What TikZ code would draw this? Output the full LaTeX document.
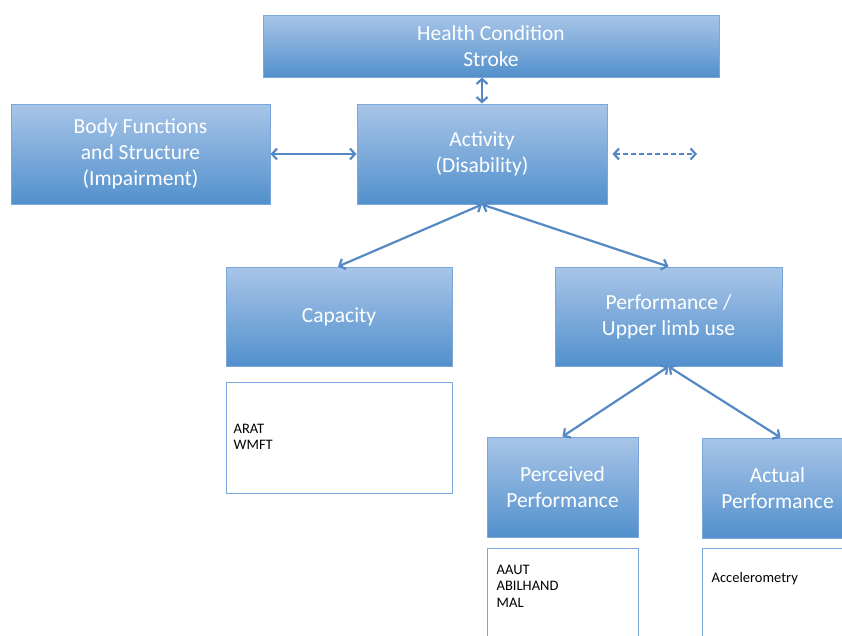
\documentclass[tikz,border=0pt]{standalone}
\usepackage{fontspec}
\setmainfont{Carlito}
\usetikzlibrary{arrows.meta,positioning}
\definecolor{boxtop}{HTML}{A8C5E8}
\definecolor{boxbot}{HTML}{5290CC}
\definecolor{boxline}{HTML}{7BA7DB}
\definecolor{arrowblue}{HTML}{5589C6}
\begin{document}
\begin{tikzpicture}[x=1pt,y=-1pt,>={Straight Barb[length=5pt,width=11pt]},
	icf/.style={rectangle,draw=boxline,line width=1pt,top color=boxtop,bottom color=boxbot,
		text=white,align=center,inner sep=0pt,font=\fontsize{21.5}{26}\selectfont},
	listbox/.style={rectangle,draw=boxline,line width=1pt,fill=white,inner sep=0pt},
	listtext/.style={align=left,inner sep=0pt,font=\fontsize{14.5}{16.5}\selectfont},
	link/.style={<->,draw=arrowblue,line width=2.2pt}]
	\useasboundingbox (0,0) rectangle (842,635);
	\clip (0,0) rectangle (842,635);
	
	\begin{scope}
		\node[icf,minimum width=456pt,minimum height=62pt] (health) at (491,46) {Health Condition\\Stroke};
		\node[icf,minimum width=250pt,minimum height=100pt] (activity) at (482,154) {Activity\\(Disability)};
		\node[icf,minimum width=259pt,minimum height=100pt] (body) at (140.5,154) {Body Functions\\and Structure\\(Impairment)};
		\node[icf,minimum width=226pt,minimum height=99pt] (capacity) at (339,316.5) {Capacity};
		\node[icf,minimum width=227pt,minimum height=99pt] (perf) at (668.5,316.5) {Performance /\\Upper limb use};
		\node[icf,minimum width=151pt,minimum height=100pt] (perceived) at (562.5,487) {Perceived\\Performance};
		\node[icf,minimum width=151pt,minimum height=100pt] (actual) at (777.5,488) {Actual\\Performance};
	\end{scope}
	
	\begin{scope}
		\node[listbox,minimum width=226pt,minimum height=111pt] (capbox) at (339,437.5) {};
		\node[listbox,minimum width=151pt,minimum height=112pt] (percbox) at (562.5,604) {};
		\node[listbox,minimum width=151pt,minimum height=112pt] (actbox) at (777.5,604) {};
		\node[listtext,below right=42pt and 8pt of capbox.north west,anchor=north west] (captext) {ARAT\\WMFT};
		\node[listtext,below right=17pt and 10pt of percbox.north west,anchor=north west] (perctext) {AAUT\\ABILHAND\\MAL};
		\node[listtext,below right=25pt and 10pt of actbox.north west,anchor=north west] (acttext) {Accelerometry};
	\end{scope}
	
	\coordinate (context) at (697,154);
	\begin{scope}
		\draw[link] (activity.north) -- (activity.north |- health.south);
		\draw[link] (body.east) -- (activity.west);
		\draw[link,dash pattern=on 5pt off 3pt] ([xshift=5pt]activity.east) -- (context);
		\draw[link] (activity.south) -- ([xshift=-1pt]capacity.north);
		\draw[link] (activity.south) -- (perf.north);
		\draw[link] (perf.south) -- (perceived.north);
		\draw[link] (perf.south) -- ([xshift=3pt]actual.north);
	\end{scope}
\end{tikzpicture}
\end{document}
